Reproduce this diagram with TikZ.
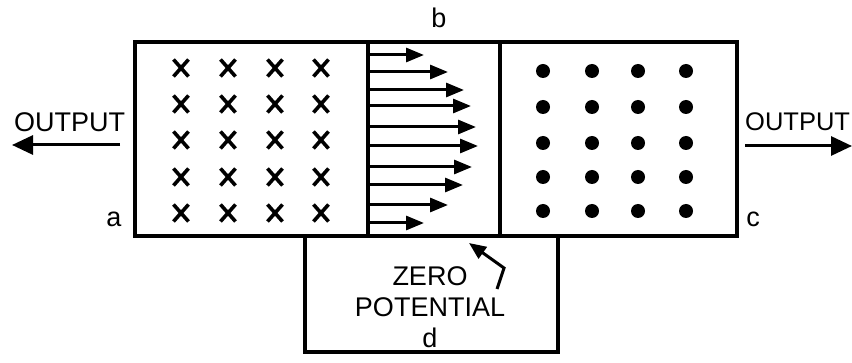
\documentclass[tikz,border=0pt]{standalone}
\usepackage{fontspec}
\setmainfont{Liberation Sans}
\usetikzlibrary{arrows.meta}
\begin{document}
\begin{tikzpicture}[x=1pt,y=-1pt,
  frame/.style={line width=3.6pt},
  fieldarrow/.style={line width=3pt,-{Triangle[length=18pt,width=14pt]}},
  outarrow/.style={line width=3pt,-{Triangle[length=21pt,width=19pt]}},
  lbl/.style={font=\fontsize{27}{30}\selectfont,inner sep=0pt},
  crossmark/.style={line width=3.6pt},
  dotmark/.style={fill=black}]
\useasboundingbox[fill=white] (0,0) rectangle (852,363);
% boxes
\draw[frame] (135,42) rectangle (737,236);
\draw[frame] (368,42) -- (368,236);
\draw[frame] (500,42) -- (500,236);
\draw[frame] (305,236) -- (305,352) -- (558,352) -- (558,236);
% crosses
\foreach \x in {181,228,275,321}
  \foreach \y in {68,104,140,177,213}
    \draw[crossmark] (\x-7.5,\y-8.5) -- (\x+7.5,\y+8.5) (\x-7.5,\y+8.5) -- (\x+7.5,\y-8.5);
% dots
\foreach \x in {543,592,638,686}
  \foreach \y in {71,107,143,177,211}
    \fill[dotmark] (\x,\y) circle (7);
% field arrows
\foreach \y/\t in {55/424,72/448,90/464,106/471,127/476,146/478,167/472,185/463,205/448,223/424}
  \draw[fieldarrow] (368,\y) -- (\t,\y);
% labels
\node[lbl] (b) at (439,18) {b};
\node[lbl] (a) at (114,219) {a};
\node[lbl] (c) at (753,219) {c};
\node[lbl,anchor=base] (d) at (430,348) {d};
\node[lbl,anchor=base] (zero) at (430,286) {ZERO};
\node[lbl,anchor=base] (pot) at (430,317) {POTENTIAL};
\node[lbl,anchor=base west] (outl) at (14,132) {OUTPUT};
\node[lbl,anchor=base west,font=\fontsize{25.5}{28}\selectfont] (outr) at (745,131) {OUTPUT};
% output arrows
\coordinate (ls) at (120,145);
\coordinate (le) at (12,145);
\coordinate (rs) at (745,146);
\coordinate (re) at (852,146);
\draw[outarrow] (ls) -- (le);
\draw[outarrow] (rs) -- (re);
% zero potential pointer
\coordinate (zs) at (497,289);
\coordinate (zm) at (504,268);
\coordinate (zt) at (469,243);
\draw[line width=3pt,-{Triangle[length=17pt,width=14pt]}] (zs) -- (zm) -- (zt);
\end{tikzpicture}
\end{document}
